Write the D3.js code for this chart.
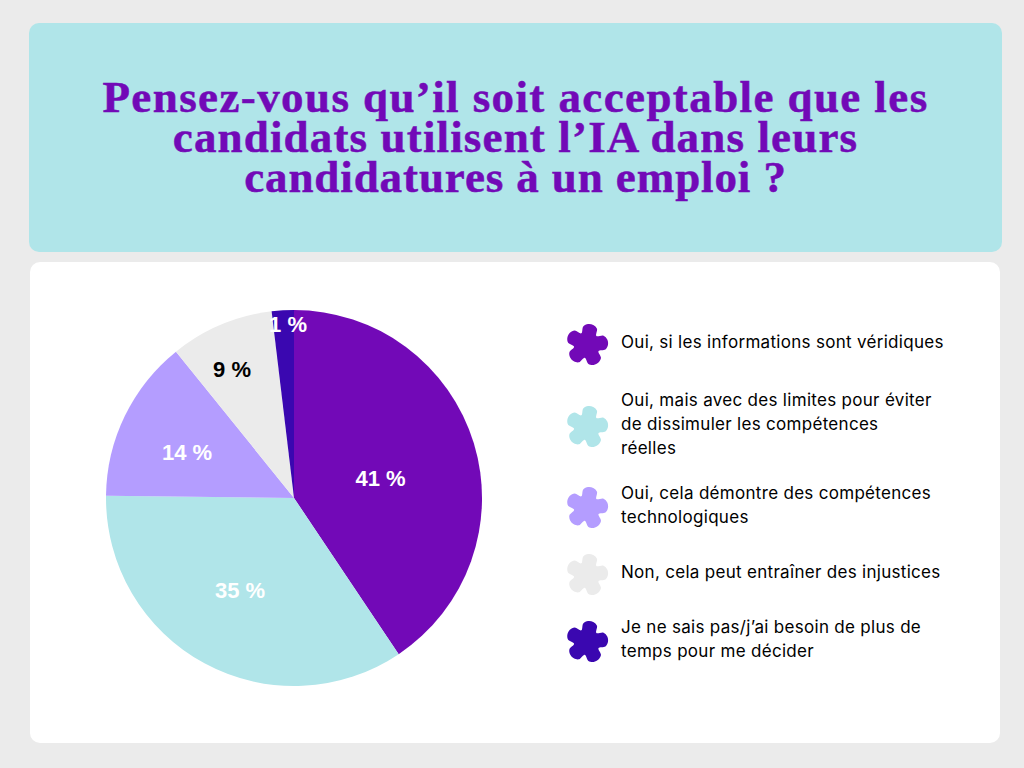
<!DOCTYPE html>
<html>
<head>
<meta charset="utf-8">
<script src="https://cdn.jsdelivr.net/npm/d3@7"></script>
<style>
html, body { margin: 0; padding: 0; background: #ebebeb; }
svg { display: block; }
</style>
</head>
<body>
<svg width="1024" height="768"></svg>
<script>
var titleLines = ["Pensez-vous qu’il soit acceptable que les", "candidats utilisent l’IA dans leurs", "candidatures à un emploi ?"];
var categories = ["Oui, si les informations sont véridiques", "Oui, mais avec des limites", "Oui, cela démontre", "Non, cela peut entraîner", "Je ne sais pas"];
var sliceValues = [40.6, 34.6, 14, 8.9, 1.9];
var sliceLabels = ["41 %", "35 %", "14 %", "9 %", "1 %"];
var colors = ["#7209b7", "#b0e5e9", "#b49dff", "#ebebeb", "#3a07b0"];
var labelColors = ["#ffffff", "#ffffff", "#ffffff", "#000000", "#ffffff"];
var legendLines = [
    ["Oui, si les informations sont véridiques"],
    ["Oui, mais avec des limites pour éviter", "de dissimuler les compétences", "réelles"],
    ["Oui, cela démontre des compétences", "technologiques"],
    ["Non, cela peut entraîner des injustices"],
    ["Je ne sais pas/j’ai besoin de plus de", "temps pour me décider"]
];
var legendY = [342, 424, 505, 572, 639];

var svg = d3.select("svg");

svg.append("rect").attr("x", 29).attr("y", 23).attr("width", 973).attr("height", 229).attr("rx", 10).attr("fill", "#b0e5e9");
svg.append("rect").attr("x", 30).attr("y", 262).attr("width", 970).attr("height", 481).attr("rx", 10).attr("fill", "#ffffff");

// Title
var titleSpacing = [1.4, 1.15, 0.9];
svg.selectAll("text.title")
    .data(titleLines)
    .join("text")
    .attr("class", "title")
    .attr("x", 515.5)
    .attr("y", function(d, i) { return 112 + i * 40; })
    .attr("text-anchor", "middle")
    .attr("font-family", "'Liberation Serif'")
    .attr("font-weight", "bold")
    .attr("font-size", 45)
    .attr("letter-spacing", function(d, i) { return titleSpacing[i]; })
    .attr("stroke", "#7209b7")
    .attr("stroke-width", 0.5)
    .attr("fill", "#7209b7")
    .text(function(d) { return d; });

// Pie
var pie = d3.pie().sort(null)(sliceValues);
var arc = d3.arc().innerRadius(0).outerRadius(188);
var pieGroup = svg.append("g").attr("transform", "translate(294,498)");

pieGroup.selectAll("path")
    .data(pie)
    .join("path")
    .attr("d", arc)
    .attr("fill", function(d, i) { return colors[i]; });

var labelPos = [[380.5, 478], [240, 590], [187, 452], [232, 369], [288, 324]];
svg.selectAll("text.slice")
    .data(sliceLabels)
    .join("text")
    .attr("class", "slice")
    .attr("x", function(d, i) { return labelPos[i][0]; })
    .attr("y", function(d, i) { return labelPos[i][1]; })
    .attr("dy", "0.35em")
    .attr("text-anchor", "middle")
    .attr("font-family", "'Liberation Sans'")
    .attr("font-weight", "bold")
    .attr("font-size", 22)
    .attr("fill", function(d, i) { return labelColors[i]; })
    .text(function(d) { return d; });

// Legend: five petal blob, each petal is a flat top and a valley
var petalRadii = [19, 21, 21, 19, 13, 19, 21, 21, 19, 13, 19, 21, 21, 19, 13, 19, 21, 21, 19, 13, 19, 21, 21, 19, 13];
var flower = d3.lineRadial()
    .angle(function(d, i) { return -0.2 + i * 2 * Math.PI / 25; })
    .radius(function(d) { return d; })
    .curve(d3.curveCatmullRomClosed.alpha(0.5));

var legend = svg.selectAll("g.legend")
    .data(categories)
    .join("g")
    .attr("class", "legend");

legend.append("path")
    .attr("d", flower(petalRadii))
    .attr("transform", function(d, i) { return "translate(587," + (legendY[i] + 3) + ")"; })
    .attr("fill", function(d, i) { return colors[i]; });

legend.each(function(d, i) {
    var lines = legendLines[i];
    d3.select(this).selectAll("text")
        .data(lines)
        .join("text")
        .attr("x", 621)
        .attr("y", function(t, j) { return legendY[i] + 6 + (j - (lines.length - 1) / 2) * 24; })
        .attr("font-family", "Inter")
        .attr("font-size", 17)
        .attr("letter-spacing", 0.3)
        .attr("fill", "#000000")
        .text(function(t) { return t; });
});
</script>
</body>
</html>
